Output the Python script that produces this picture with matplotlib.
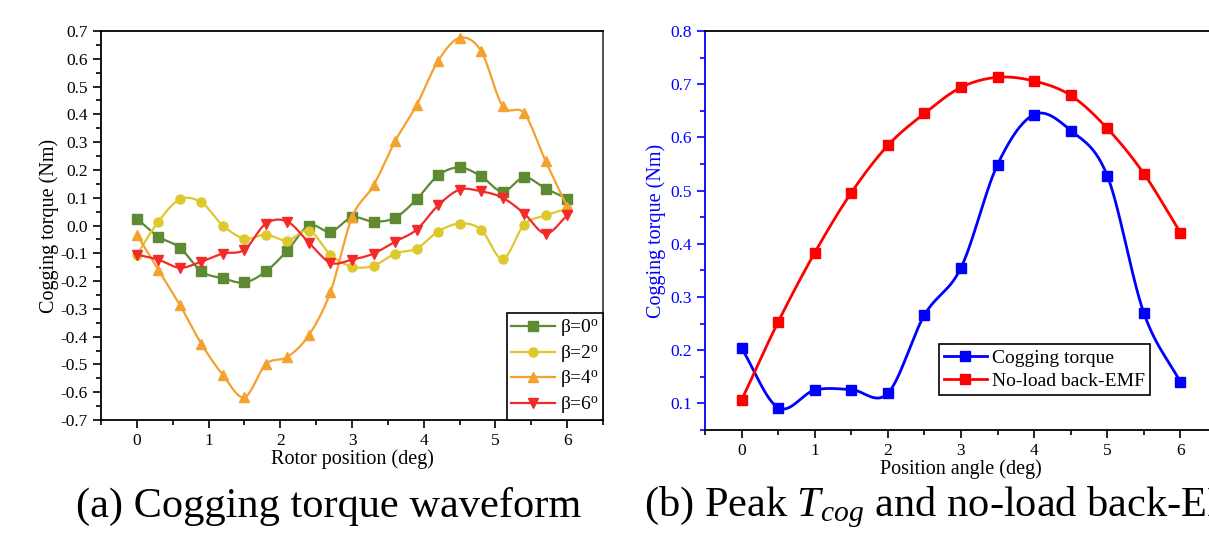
import numpy as np
import matplotlib
matplotlib.use("Agg")
import matplotlib.pyplot as plt
from matplotlib.ticker import MultipleLocator

plt.rcParams["font.family"] = ["Liberation Serif", "DejaVu Serif"]
plt.rcParams["mathtext.fontset"] = "custom"
plt.rcParams["mathtext.rm"] = "Liberation Serif"
plt.rcParams["mathtext.it"] = "Liberation Serif:italic"

# (a) cogging torque waveform
rotor_pos = [0.0, 0.3, 0.6, 0.9, 1.2, 1.5, 1.8, 2.1, 2.4, 2.7, 3.0,
             3.3, 3.6, 3.9, 4.2, 4.5, 4.8, 5.1, 5.4, 5.7, 6.0]
beta0 = [0.025, -0.040, -0.080, -0.165, -0.190, -0.205, -0.165, -0.090, 0.000, -0.022, 0.029,
         0.014, 0.028, 0.094, 0.180, 0.209, 0.177, 0.122, 0.173, 0.133, 0.097]
beta2 = [-0.105, 0.014, 0.094, 0.083, 0.000, -0.047, -0.033, -0.054, -0.018, -0.105, -0.148,
         -0.145, -0.101, -0.083, -0.022, 0.007, -0.015, -0.120, 0.003, 0.036, 0.061]
beta4 = [-0.033, -0.159, -0.286, -0.426, -0.538, -0.618, -0.499, -0.473, -0.394, -0.239, 0.029,
         0.144, 0.303, 0.433, 0.592, 0.675, 0.628, 0.430, 0.404, 0.231, 0.068]
beta6 = [-0.105, -0.123, -0.152, -0.130, -0.101, -0.087, 0.007, 0.014, -0.062, -0.134, -0.123,
         -0.101, -0.058, -0.015, 0.072, 0.129, 0.123, 0.100, 0.043, -0.029, 0.036]
beta_labels = [r"β=0$^{\mathrm{o}}$", r"β=2$^{\mathrm{o}}$", r"β=4$^{\mathrm{o}}$", r"β=6$^{\mathrm{o}}$"]

# (b) peak cogging torque and no-load back-EMF
pos_angle = [0.0, 0.5, 1.0, 1.5, 2.0, 2.5, 3.0, 3.5, 4.0, 4.5, 5.0, 5.5, 6.0]
cog_peak = [0.204, 0.092, 0.125, 0.126, 0.119, 0.266, 0.355, 0.549, 0.643, 0.613, 0.528, 0.270, 0.140]
back_emf = [0.106, 0.253, 0.383, 0.496, 0.585, 0.645, 0.694, 0.713, 0.706, 0.679, 0.617, 0.532, 0.421]


def smooth(x, y, n=30):
    # Catmull-Rom style hermite curve, only for drawing the connecting line
    x = np.asarray(x, float)
    y = np.asarray(y, float)
    m = np.gradient(y, x)
    xs_all, ys_all = [], []
    for i in range(len(x) - 1):
        h = x[i + 1] - x[i]
        t = np.linspace(0, 1, n)
        h00 = 2 * t**3 - 3 * t**2 + 1
        h10 = t**3 - 2 * t**2 + t
        h01 = -2 * t**3 + 3 * t**2
        h11 = t**3 - t**2
        xs_all.append(x[i] + t * h)
        ys_all.append(h00 * y[i] + h10 * h * m[i] + h01 * y[i + 1] + h11 * h * m[i + 1])
    return np.concatenate(xs_all), np.concatenate(ys_all)


fig = plt.figure(figsize=(12.09, 5.48), dpi=100)
ax1 = fig.add_axes([0.0835, 0.2336, 0.4153, 0.7098])
ax2 = fig.add_axes([0.5831, 0.2153, 0.4235, 0.7281])

colors = ["#5E8A32", "#DEC82C", "#F4A12E", "#F42A2A"]
markers = ["s", "o", "^", "v"]
for ys, col, mk, lab in zip([beta0, beta2, beta4, beta6], colors, markers, beta_labels):
    xs, sm = smooth(rotor_pos, ys)
    ax1.plot(xs, sm, color=col, lw=1.6)
    ax1.plot(rotor_pos, ys, ls="none", marker=mk, color=col, ms=6.5)
    ax1.plot([], [], color=col, lw=1.6, marker=mk, ms=6.5, label=lab)

ax1.set_xlim(-0.5, 6.5)
ax1.set_ylim(-0.7, 0.7)
ax1.xaxis.set_major_locator(MultipleLocator(1))
ax1.xaxis.set_minor_locator(MultipleLocator(0.5))
ax1.yaxis.set_major_locator(MultipleLocator(0.1))
ax1.yaxis.set_minor_locator(MultipleLocator(0.05))
ax1.yaxis.set_major_formatter(plt.FuncFormatter(lambda v, p: f"{v:.1f}"))
ax1.tick_params(which="major", direction="out", length=6, width=1.2, labelsize=12.5)
ax1.tick_params(which="minor", direction="out", length=3.5, width=1.2)
for s in ax1.spines.values():
    s.set_linewidth(1.3)
ax1.spines["right"].set_color("#444444")
ax1.set_xlabel("Rotor position (deg)", fontsize=14.5, labelpad=0)
ax1.set_ylabel("Cogging torque (Nm)", fontsize=14.5, labelpad=1)
leg1 = ax1.legend(loc="lower right", fontsize=14, fancybox=False, edgecolor="black",
                  framealpha=1, borderaxespad=0, handlelength=2.25, labelspacing=0.2,
                  handletextpad=0.25, borderpad=0.22)
leg1.get_frame().set_linewidth(1.2)

blue = "#0000FF"
xs, sm = smooth(pos_angle, cog_peak)
ax2.plot(xs, sm, color=blue, lw=2)
ax2.plot(pos_angle, cog_peak, ls="none", marker="s", color=blue, ms=7.5)
ax2.plot([], [], color=blue, lw=2, marker="s", ms=7.5, label="Cogging torque")
xs, sm = smooth(pos_angle, back_emf)
ax2.plot(xs, sm, color="#FF0000", lw=2)
ax2.plot(pos_angle, back_emf, ls="none", marker="s", color="#FF0000", ms=7.5)
ax2.plot([], [], color="#FF0000", lw=2, marker="s", ms=7.5, label="No-load back-EMF")

ax2.set_xlim(-0.5, 6.5)
ax2.set_ylim(0.05, 0.8)
ax2.xaxis.set_major_locator(MultipleLocator(1))
ax2.xaxis.set_minor_locator(MultipleLocator(0.5))
ax2.yaxis.set_major_locator(MultipleLocator(0.1))
ax2.yaxis.set_minor_locator(MultipleLocator(0.05))
ax2.yaxis.set_major_formatter(plt.FuncFormatter(lambda v, p: f"{v:.1f}"))
ax2.tick_params(which="major", direction="out", length=6, width=1.2, labelsize=12.5)
ax2.tick_params(which="minor", direction="out", length=3.5, width=1.2)
ax2.tick_params(axis="y", which="both", colors=blue, labelcolor=blue)
for s in ax2.spines.values():
    s.set_linewidth(1.3)
ax2.spines["left"].set_color(blue)
ax2.set_xlabel("Position angle (deg)", fontsize=14.5, labelpad=0)
ax2.set_ylabel("Cogging torque (Nm)", fontsize=14.5, color=blue, labelpad=3)
leg2 = ax2.legend(loc="lower left", bbox_to_anchor=(0.457, 0.088), fontsize=14, fancybox=False,
                  edgecolor="black", framealpha=1, borderaxespad=0, handlelength=2.2,
                  labelspacing=0.3, handletextpad=0.3, borderpad=0.25)
leg2.get_frame().set_linewidth(1.2)

fig.text(0.063, 0.057, "(a) Cogging torque waveform", fontsize=30.5, va="baseline")
fig.text(0.5327, 0.057, r"(b) Peak $T_{cog}$ and no-load back-EMF", fontsize=30.5, va="baseline")

fig.savefig("out.png", dpi=100)
